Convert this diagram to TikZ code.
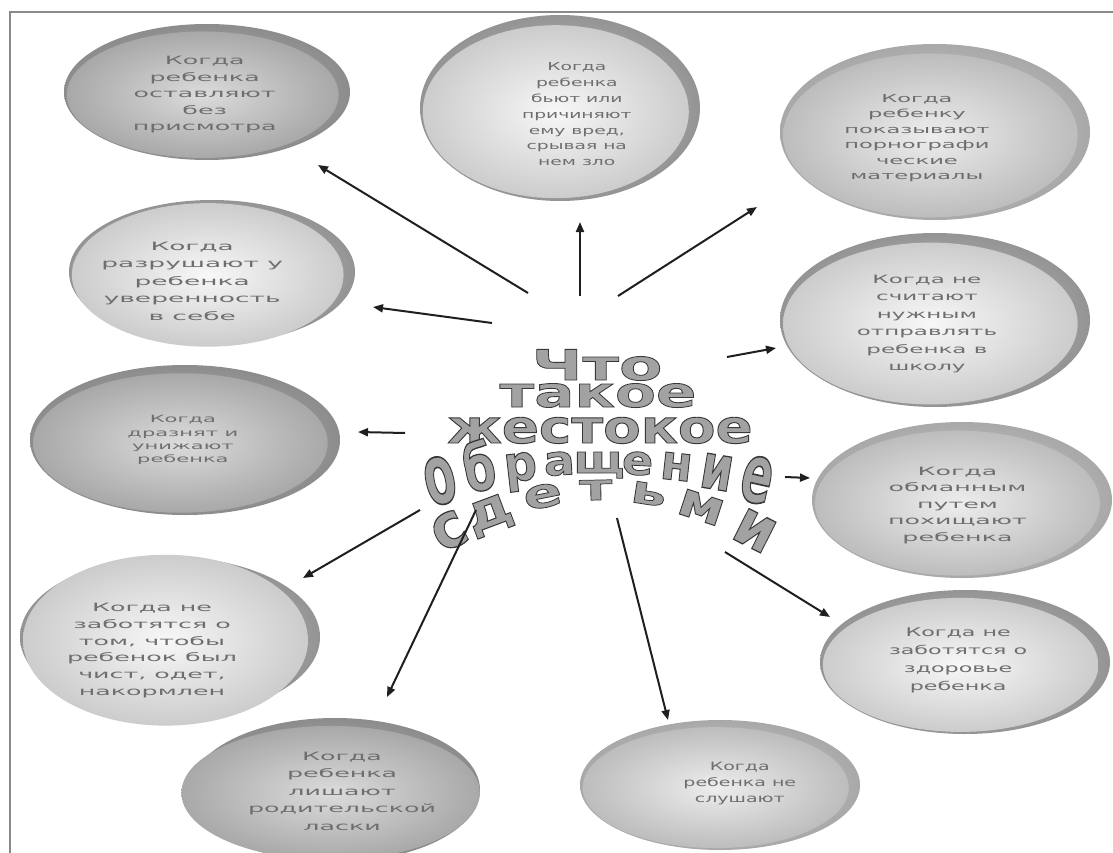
\documentclass[tikz,border=0pt]{standalone}
\usepackage{fontspec}
\setmainfont{DejaVu Sans}
\usetikzlibrary{arrows.meta,shapes.geometric}
\definecolor{txt}{HTML}{6E6E6E}
\definecolor{wafill}{HTML}{A2A2A2}
\definecolor{framec}{HTML}{8A8A8A}
\definecolor{dkRimIn}{gray}{0.72}\definecolor{dkRimOut}{gray}{0.55}
\definecolor{dkIn}{gray}{0.86}\definecolor{dkOut}{gray}{0.66}
\definecolor{ltRimIn}{gray}{0.78}\definecolor{ltRimOut}{gray}{0.58}
\definecolor{ltIn}{gray}{0.97}\definecolor{ltOut}{gray}{0.80}
\definecolor{mdRimIn}{gray}{0.82}\definecolor{mdRimOut}{gray}{0.66}
\definecolor{mdIn}{gray}{0.93}\definecolor{mdOut}{gray}{0.74}
% ellipse text: stretch, size, baselineskip, lines
\newcommand{\etx}[4]{{\fontsize{#2}{#3}\selectfont\addfontfeatures{FakeStretch=#1}\begin{tabular}{@{}c@{}}#4\end{tabular}}}
% shift node content by half of the given amounts
\newcommand{\txoff}[3]{\vbox{\vskip#2\hbox{\hspace*{#1}#3}}}
% outlined WordArt text: size, stretch, text
\newcommand{\wat}[3]{{\fontsize{#1}{#1}\selectfont\bfseries\addfontfeatures{FakeStretch=#2,FakeBold=2}\special{pdf:literal direct 0.22 G}#3}}
\tikzset{
  blob/.style={ellipse, inner sep=0pt, text=txt},
  dkrim/.style={inner color=dkRimIn, outer color=dkRimOut},
  ltrim/.style={inner color=ltRimIn, outer color=ltRimOut},
  mdrim/.style={inner color=mdRimIn, outer color=mdRimOut},
  dk/.style={blob, inner color=dkIn, outer color=dkOut},
  lt/.style={blob, inner color=ltIn, outer color=ltOut},
  md/.style={blob, inner color=mdIn, outer color=mdOut},
  arr/.style={-{Triangle[length=10pt,width=8pt]}, line width=2pt, draw=black!88},
  wa/.style={inner sep=0pt, text=wafill, anchor=base},
  frame/.style={draw=framec, line width=1.2pt}
}
\begin{document}
\begin{tikzpicture}[x=1pt,y=-1pt]
\useasboundingbox (0,0) rectangle (1113,853);
\fill[white] (0,0) rectangle (1113,853);
\draw[frame] (10,853) -- (10,12) -- (1113,12);

% 1 top-left
\shade[dkrim] (207,92) ellipse [x radius=143, y radius=68];
\node[dk, minimum width=271.7, minimum height=126.5] (e1) at (202.7,94.7)
  {\txoff{4pt}{0pt}{\etx{2.2}{11.5}{16.5}{Когда\\ребенка\\оставляют\\без\\присмотра}}};
% 2 top-centre
\shade[ltrim] (560,108) ellipse [x radius=140, y radius=93];
\node[lt, minimum width=266, minimum height=173] (e2) at (555.8,111.7)
  {\txoff{42pt}{7pt}{\etx{1.7}{11}{15.8}{Когда\\ребенка\\бьют или\\причиняют\\ему вред,\\срывая на\\нем зло}}};
% 3 top-right
\shade[mdrim] (935,132) ellipse [x radius=155, y radius=88];
\node[md, minimum width=294.5, minimum height=163.7] (e3) at (930.4,135.5)
  {\txoff{-27pt}{5pt}{\etx{2.05}{11}{15.4}{Когда\\ребенку\\показывают\\порнографи\\ческие\\материалы}}};
% 4 left 2
\shade[ltrim] (212,272) ellipse [x radius=143, y radius=72];
\node[lt, minimum width=271.7, minimum height=134] (e4) at (207.7,274.9)
  {\txoff{-31pt}{14pt}{\etx{2.3}{11.5}{17.5}{Когда\\разрушают у\\ребенка\\уверенность\\в себе}}};
% 5 right 2
\shade[ltrim] (935,320) ellipse [x radius=155, y radius=87];
\node[lt, minimum width=294.5, minimum height=161.8] (e5) at (930.4,323.5)
  {\txoff{-7pt}{0pt}{\etx{2.0}{11.5}{17.4}{Когда не\\считают\\нужным\\отправлять\\ребенка в\\школу}}};
% 6 left 3
\shade[dkrim] (185,440) ellipse [x radius=155, y radius=75];
\node[dk, minimum width=294.5, minimum height=139.5] (e6) at (180.4,443)
  {\txoff{5pt}{-6pt}{\etx{2.1}{10}{13.3}{Когда\\дразнят и\\унижают\\ребенка}}};
% 7 right 3
\shade[mdrim] (962,500) ellipse [x radius=150, y radius=78];
\node[md, minimum width=285, minimum height=145] (e7) at (957.5,503.1)
  {\txoff{0pt}{4pt}{\etx{2.2}{11.5}{16.5}{Когда\\обманным\\путем\\похищают\\ребенка}}};
% 8 left 4
\shade[ltrim] (170,637) ellipse [x radius=150, y radius=80];
\node[lt, minimum width=285, minimum height=148.8] (e8) at (165.5,640.2)
  {\txoff{-27pt}{20pt}{\etx{2.2}{11.5}{16.8}{Когда не\\заботятся о\\том, чтобы\\ребенок был\\чист, одет,\\накормлен}}};
% 9 right 4
\shade[ltrim] (965,662) ellipse [x radius=145, y radius=72];
\node[lt, minimum width=275.5, minimum height=134] (e9) at (960.6,664.9)
  {\txoff{-5pt}{-10pt}{\etx{1.85}{12}{18}{Когда не\\заботятся о\\здоровье\\ребенка}}};
% 10 bottom-left
\shade[dkrim] (335,790) ellipse [x radius=145, y radius=72];
\node[dk, minimum width=275.5, minimum height=134] (e10) at (330.6,792.9)
  {\txoff{23pt}{-2pt}{\etx{2.2}{11.5}{17.5}{Когда\\ребенка\\лишают\\родительской\\ласки}}};
% 11 bottom-right
\shade[mdrim] (720,785) ellipse [x radius=140, y radius=65];
\node[md, minimum width=266, minimum height=121] (e11) at (715.8,787.6)
  {\txoff{48pt}{-9pt}{\etx{1.65}{11.5}{16}{Когда\\ребенка не\\слушают}}};

% central title (WordArt)
\node[wa] (w1) at (597,380) {\wat{42}{1.5}{Что}};
\node[wa] (w2) at (598,407) {\wat{42}{1.42}{такое}};
\node[wa] (w3) at (600,443) {\wat{46}{1.19}{жестокое}};
\foreach \ch/\px [count=\i] in {о/445,б/483,р/522,а/560,щ/599,е/637,н/675,и/714,е/752}{
  \pgfmathsetmacro\u{(\px-600)/155}
  \pgfmathsetmacro\yb{473+30*\u*\u}
  \pgfmathsetmacro\sy{(21+25*\u*\u)/24.1}
  \pgfmathsetmacro\an{-atan(0.226*\u)}
  \node[wa, rotate=\an, yscale=\sy, transform shape] (wo\i) at (\px,\yb)
    {\wat{44}{1.05}{\ch}};
}
\foreach \ch/\px [count=\i] in {с/457,д/494,е/545,т/596,ь/647,м/697,и/747}{
  \pgfmathsetmacro\u{(\px-602)/148}
  \pgfmathsetmacro\yb{500+48*\u*\u}
  \pgfmathsetmacro\sy{(20+15*\u*\u)/24.1}
  \pgfmathsetmacro\an{-atan(0.514*\u)}
  \node[wa, rotate=\an, yscale=\sy, transform shape] (wd\i) at (\px,\yb)
    {\wat{44}{1.3}{\ch}};
}

% arrows
\coordinate (s1) at (528,293);  \coordinate (h1) at (318,165);
\coordinate (s2) at (580,296);  \coordinate (h2) at (580,222);
\coordinate (s3) at (618,296);  \coordinate (h3) at (757,207);
\coordinate (s4) at (492,323);  \coordinate (h4) at (373,307);
\coordinate (s5) at (727,357);  \coordinate (h5) at (776,348);
\coordinate (s6) at (405,433);  \coordinate (h6) at (358,432);
\coordinate (s7) at (785,477);  \coordinate (h7) at (810,478);
\coordinate (s8) at (420,510);  \coordinate (h8) at (303,578);
\coordinate (s9) at (725,552);  \coordinate (h9) at (830,617);
\coordinate (s10) at (476,510); \coordinate (h10) at (387,697);
\coordinate (s11) at (617,518); \coordinate (h11) at (668,720);
\foreach \k in {1,...,11}{\draw[arr] (s\k) -- (h\k);}
\end{tikzpicture}
\end{document}
